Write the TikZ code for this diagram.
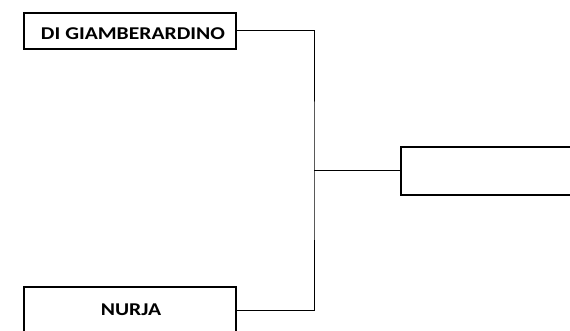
\documentclass[tikz,border=0pt]{standalone}
\usepackage{fontspec}
\setmainfont{Carlito}
\newcommand{\wide}[1]{\scalebox{1.2}[1]{#1}}
\begin{document}
\begin{tikzpicture}[x=1pt,y=-1pt,
  box/.style={draw=black,line width=2pt,inner sep=0pt},
  lbl/.style={inner sep=0pt,font=\bfseries\fontsize{18}{20}\selectfont,text=black},
  link/.style={draw=black,line width=1pt}]
\useasboundingbox (0,0) rectangle (570,331);
\clip (0,0) rectangle (570,331);
\node[box,minimum width=212pt,minimum height=36pt] (a) at (130,31) {};
\node[lbl] (at) at (133,34) {\wide{DI GIAMBERARDINO}};
\node[box,minimum width=212pt,minimum height=46pt] (b) at (130,310) {};
\node[lbl] (bt) at (131,310) {\wide{NURJA}};
\node[box,minimum width=220pt,minimum height=48pt,anchor=west] (c) at (400,171) {};
\coordinate (j) at (314,171);
\draw[link] (a.east) -| (j) |- (b.east);
\draw[link] (j) -- (c.west);
\end{tikzpicture}
\end{document}
